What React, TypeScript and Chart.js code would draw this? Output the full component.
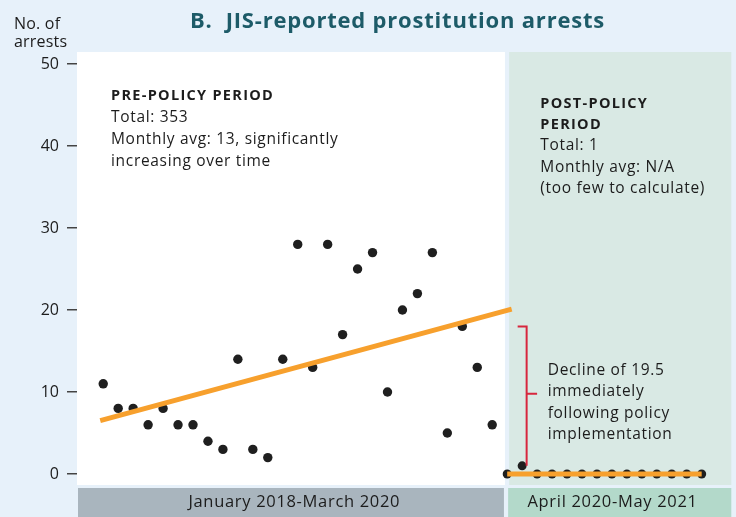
import React, { useEffect, useRef } from "react";
import { Chart, registerables } from "chart.js";

Chart.register(...registerables);

// ---- data ----
const preValues = [11, 8, 8, 6, 8, 6, 6, 4, 3, 14, 3, 2, 14, 28, 13, 28, 17, 25, 27, 10, 20, 22, 27, 5, 18, 13, 6];
const postValues = [0, 1, 0, 0, 0, 0, 0, 0, 0, 0, 0, 0, 0, 0];
const preTrendX = [-0.2, 27.3];
const preTrendY = [6.5, 20.1];
const postTrendX = [27, 40];
const postTrendY = [0, 0];
const bracketX = [27.7, 28.3, 28.3];
const bracketY = [18, 18, 1];
const bracketTickX = [28.3, 29.0];
const bracketTickY = [9.8, 9.8];
const yTicks = [0, 10, 20, 30, 40, 50];
const periodLabels = ["January 2018-March 2020", "April 2020-May 2021"];
const titleText = "B.  JIS-reported prostitution arrests";
const yTitle = ["No. of", "arrests"];
const preNote = ["PRE-POLICY PERIOD", "Total: 353", "Monthly avg: 13, significantly", "increasing over time"];
const postNote = ["POST-POLICY", "PERIOD", "Total: 1", "Monthly avg: N/A", "(too few to calculate)"];
const declineNote = ["Decline of 19.5", "immediately", "following policy", "implementation"];

const FONT = "'Open Sans', sans-serif";
const REG = `15.5px ${FONT}`;
const REG_SP = 0.68;
const BOLD = `bold 14.5px ${FONT}`;
const BOLD_SP = 1.3;

function txt(ctx: any, s: string, x: number, y: number, font: string, sp: number, align = "left") {
  ctx.font = font;
  try {
    ctx.letterSpacing = `${sp}px`;
  } catch (e) {}
  ctx.textAlign = align;
  const dx = align === "center" ? sp / 2 : 0;
  ctx.fillText(s, x + dx, y);
  try {
    ctx.letterSpacing = "0px";
  } catch (e) {}
}

const decorPlugin = {
  id: "decor",
  beforeDraw(chart: any) {
    const { ctx, chartArea, scales } = chart;
    const x = scales.x;
    const W = chart.width;
    const H = chart.height;
    ctx.save();
    ctx.fillStyle = "#e7f1fa";
    ctx.fillRect(0, 0, W, H);
    const splitL = x.getPixelForValue(26.85);
    const splitR = x.getPixelForValue(27.13);
    ctx.fillStyle = "#ffffff";
    ctx.fillRect(chartArea.left, chartArea.top, splitL - chartArea.left, chartArea.bottom - chartArea.top);
    ctx.fillStyle = "#d9e9e4";
    ctx.fillRect(splitR, chartArea.top, chartArea.right - splitR, chartArea.bottom - chartArea.top);
    // period bars
    const barTop = chartArea.bottom + 3;
    ctx.fillStyle = "#a9b5be";
    ctx.fillRect(chartArea.left + 1, barTop, splitL - chartArea.left - 2, H - barTop);
    ctx.fillStyle = "#b3d9ca";
    ctx.fillRect(splitR - 1, barTop, chartArea.right - splitR + 1, H - barTop);
    ctx.fillStyle = "#1c1c1c";
    ctx.textBaseline = "middle";
    txt(ctx, periodLabels[0], (chartArea.left + splitL) / 2 + 3, (barTop + H) / 2, `16.5px ${FONT}`, REG_SP, "center");
    txt(ctx, periodLabels[1], (splitR + chartArea.right) / 2 - 8, (barTop + H) / 2, `16.5px ${FONT}`, REG_SP, "center");
    ctx.restore();
  },
  afterDraw(chart: any) {
    const { ctx } = chart;
    ctx.save();
    ctx.textBaseline = "alphabetic";
    // title
    ctx.fillStyle = "#1d5b68";
    txt(ctx, titleText, 190, 28.3, `bold 22px ${FONT}`, 0.8);
    // y title
    ctx.fillStyle = "#1c1c1c";
    txt(ctx, yTitle[0], 14, 29.3, `16px ${FONT}`, 0.2);
    txt(ctx, yTitle[1], 14, 46.7, `16px ${FONT}`, 0.2);
    // pre note
    txt(ctx, preNote[0], 111, 100, BOLD, BOLD_SP);
    txt(ctx, preNote[1], 111, 122.3, REG, REG_SP);
    txt(ctx, preNote[2], 111, 144, REG, REG_SP);
    txt(ctx, preNote[3], 111, 165.7, REG, REG_SP);
    // post note
    txt(ctx, postNote[0], 540.3, 108.3, BOLD, BOLD_SP);
    txt(ctx, postNote[1], 540.3, 129, BOLD, BOLD_SP);
    txt(ctx, postNote[2], 540.3, 150, REG, REG_SP);
    txt(ctx, postNote[3], 540.3, 171.7, REG, REG_SP);
    txt(ctx, postNote[4], 540.3, 192.7, REG, REG_SP);
    // decline note
    const dy = [375, 396.3, 417.7, 439];
    declineNote.forEach((t, i) => txt(ctx, t, 547.7, dy[i], REG, REG_SP));
    ctx.restore();
  },
};

export default function App() {
  const ref = useRef<HTMLCanvasElement | null>(null);
  useEffect(() => {
    if (!ref.current) return;
    Chart.defaults.font.family = FONT;
    const xy = (xs: number[], ys: number[]) => xs.map((v, i) => ({ x: v, y: ys[i] }));
    const chart = new Chart(ref.current, {
      type: "scatter",
      data: {
        datasets: [
          {
            label: "pre-trend",
            data: xy(preTrendX, preTrendY),
            showLine: true,
            borderColor: "#f7a02d",
            borderWidth: 5,
            pointRadius: 0,
            order: 0,
          },
          {
            label: "post-trend",
            data: xy(postTrendX, postTrendY),
            showLine: true,
            borderColor: "#f7a02d",
            borderWidth: 5,
            pointRadius: 0,
            order: 0,
          },
          {
            label: "bracket",
            data: xy(bracketX, bracketY),
            showLine: true,
            borderColor: "#d7263d",
            borderWidth: 2,
            pointRadius: 0,
            order: 0,
          },
          {
            label: "bracket-tick",
            data: xy(bracketTickX, bracketTickY),
            showLine: true,
            borderColor: "#d7263d",
            borderWidth: 2,
            pointRadius: 0,
            order: 0,
          },
          {
            label: "pre",
            data: preValues.map((v, i) => ({ x: i, y: v })),
            backgroundColor: "#1f1f1f",
            borderWidth: 0,
            pointRadius: 4.7,
            order: 1,
          },
          {
            label: "post",
            data: postValues.map((v, i) => ({ x: preValues.length + i, y: v })),
            backgroundColor: "#1f1f1f",
            borderWidth: 0,
            pointRadius: 4.5,
            order: 1,
          },
        ],
      },
      options: {
        animation: false,
        responsive: false,
        devicePixelRatio: 1,
        layout: { padding: { top: 52, right: 3, bottom: 32, left: 0 } },
        plugins: { legend: { display: false }, tooltip: { enabled: false } },
        events: [],
        scales: {
          x: { type: "linear", display: false, min: -1.753, max: 41.98 },
          y: {
            type: "linear",
            min: -1.34,
            max: 51.46,
            afterBuildTicks: (s: any) => {
              s.ticks = yTicks.map((v) => ({ value: v }));
            },
            afterFit: (s: any) => {
              s.width = 77;
            },
            border: { display: false },
            grid: { drawOnChartArea: false, drawTicks: true, tickLength: 10, color: "#444", lineWidth: 1.5 },
            ticks: { padding: 8, color: "#1c1c1c", font: { size: 16, family: FONT } },
          },
        },
      },
      plugins: [decorPlugin],
    });
    return () => chart.destroy();
  }, []);
  return (
    <div style={{ position: "absolute", left: 0, top: 0, width: 736, height: 517 }}>
      <canvas ref={ref} width={736} height={517} style={{ display: "block", width: 736, height: 517 }} />
    </div>
  );
}
